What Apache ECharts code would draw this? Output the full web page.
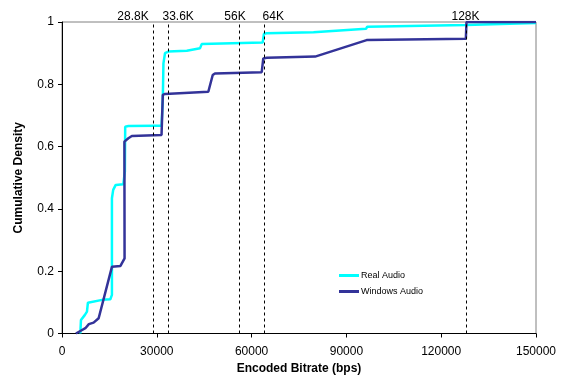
<!DOCTYPE html>
<html>
<head>
<meta charset="utf-8">
<script src="https://cdn.jsdelivr.net/npm/echarts@6/dist/echarts.min.js"></script>
<style>
html,body{margin:0;padding:0;background:#fff;}
#chart{width:568px;height:383px;}
</style>
</head>
<body>
<div id="chart"></div>
<script>
var xTicks = [0, 30000, 60000, 90000, 120000, 150000];
var yTicks = [0, 0.2, 0.4, 0.6, 0.8, 1];

var realAudio = [
  [5800,0],[6000,0.043],[6300,0.049],[7200,0.059],[7900,0.07],[8200,0.099],[8600,0.102],
  [12700,0.108],[15300,0.11],[15800,0.124],[15800,0.434],[16200,0.461],[17000,0.477],
  [19400,0.479],[19900,0.48],[19900,0.52],[20000,0.664],[21000,0.666],[29400,0.667],
  [31500,0.667],[31900,0.75],[32100,0.867],[32600,0.9],[33600,0.905],[39500,0.908],
  [40000,0.912],[43700,0.916],[44200,0.929],[44700,0.932],[63500,0.934],[63900,0.962],
  [64800,0.964],[79600,0.967],[80100,0.972],[96200,0.978],[96600,0.985],[127800,0.99],
  [128200,0.995],[150000,0.997]
];

var windowsAudio = [
  [4400,0],[5800,0.008],[7400,0.017],[8500,0.03],[10000,0.035],[11600,0.049],[15800,0.214],
  [18500,0.217],[19800,0.241],[19750,0.616],[21000,0.627],[22100,0.634],[31500,0.637],
  [31900,0.766],[32600,0.769],[46300,0.776],[47700,0.83],[48400,0.835],[63200,0.839],
  [63700,0.883],[64800,0.885],[80100,0.889],[96400,0.942],[127800,0.946],[128000,1],[150000,1]
];

var modemRates = [28800, 33600, 56000, 64000, 128000];
var modemLabels = ['28.8K', '33.6K', '56K', '64K', '128K'];
var labelShift = [-20, 10, -4, 9, -1];

var font = 'Liberation Sans, Arial, sans-serif';

var chart = echarts.init(document.getElementById('chart'), null, {renderer: 'canvas'});

var markLineData = modemRates.map(function (r) { return {xAxis: r}; });
var markPointData = modemRates.map(function (r, i) {
  return {
    coord: [r, 1],
    name: modemLabels[i],
    label: {offset: [labelShift[i], 1.5]}
  };
});

chart.setOption({
  animation: false,
  backgroundColor: '#ffffff',
  grid: {
    left: 62, right: 32, top: 22, bottom: 49.5,
    show: true, borderColor: '#808080', borderWidth: 1, backgroundColor: 'transparent'
  },
  legend: {
    orient: 'vertical',
    left: 334, top: 266,
    itemWidth: 20, itemHeight: 3, itemGap: 7,
    icon: 'rect',
    textStyle: {fontFamily: font, fontSize: 9, color: '#000', padding: [0,0,0,-3]},
    data: ['Real Audio', 'Windows Audio']
  },
  xAxis: {
    type: 'value', min: 0, max: 150000, interval: 30000,
    name: 'Encoded Bitrate (bps)', nameLocation: 'middle', nameGap: 27,
    nameTextStyle: {fontFamily: font, fontSize: 12, fontWeight: 'bold', color: '#000'},
    axisLine: {show: true, onZero: false, lineStyle: {color: '#000', width: 1}},
    axisTick: {show: true, length: 4, inside: false, lineStyle: {color: '#000'}},
    axisLabel: {fontFamily: font, fontSize: 12, color: '#000', margin: 12,
      formatter: function (v) { return xTicks.indexOf(v) >= 0 ? String(v) : ''; }},
    splitLine: {show: false}
  },
  yAxis: {
    type: 'value', min: 0, max: 1, interval: 0.2,
    name: 'Cumulative Density', nameLocation: 'middle', nameGap: 37,
    nameTextStyle: {fontFamily: font, fontSize: 12, fontWeight: 'bold', color: '#000'},
    axisLine: {show: true, onZero: false, lineStyle: {color: '#000', width: 1}},
    axisTick: {show: true, length: 4, inside: false, lineStyle: {color: '#000'}},
    axisLabel: {fontFamily: font, fontSize: 12, color: '#000', margin: 8,
      formatter: function (v) {
        var t = yTicks.find(function (k) { return Math.abs(k - v) < 1e-9; });
        if (t === undefined) return '';
        return (t === 0 || t === 1) ? String(t) : t.toFixed(1);
      }},
    splitLine: {show: false}
  },
  series: [
    {
      name: 'Real Audio', type: 'line', data: realAudio,
      showSymbol: false, symbol: 'none',
      lineStyle: {color: '#00FFFF', width: 2.5},
      itemStyle: {color: '#00FFFF'},
      z: 3
    },
    {
      name: 'Windows Audio', type: 'line', data: windowsAudio,
      showSymbol: false, symbol: 'none',
      lineStyle: {color: '#333399', width: 2.5},
      itemStyle: {color: '#333399'},
      z: 4,
      markLine: {
        silent: true, symbol: ['none', 'none'], animation: false,
        lineStyle: {color: '#000', type: [3, 3], width: 1},
        label: {show: false},
        data: markLineData
      },
      markPoint: {
        silent: true, symbol: 'circle', symbolSize: 0, animation: false,
        label: {show: true, position: 'top', distance: 1, formatter: '{b}',
          fontFamily: font, fontSize: 12, color: '#000'},
        data: markPointData
      }
    }
  ]
});
</script>
</body>
</html>
